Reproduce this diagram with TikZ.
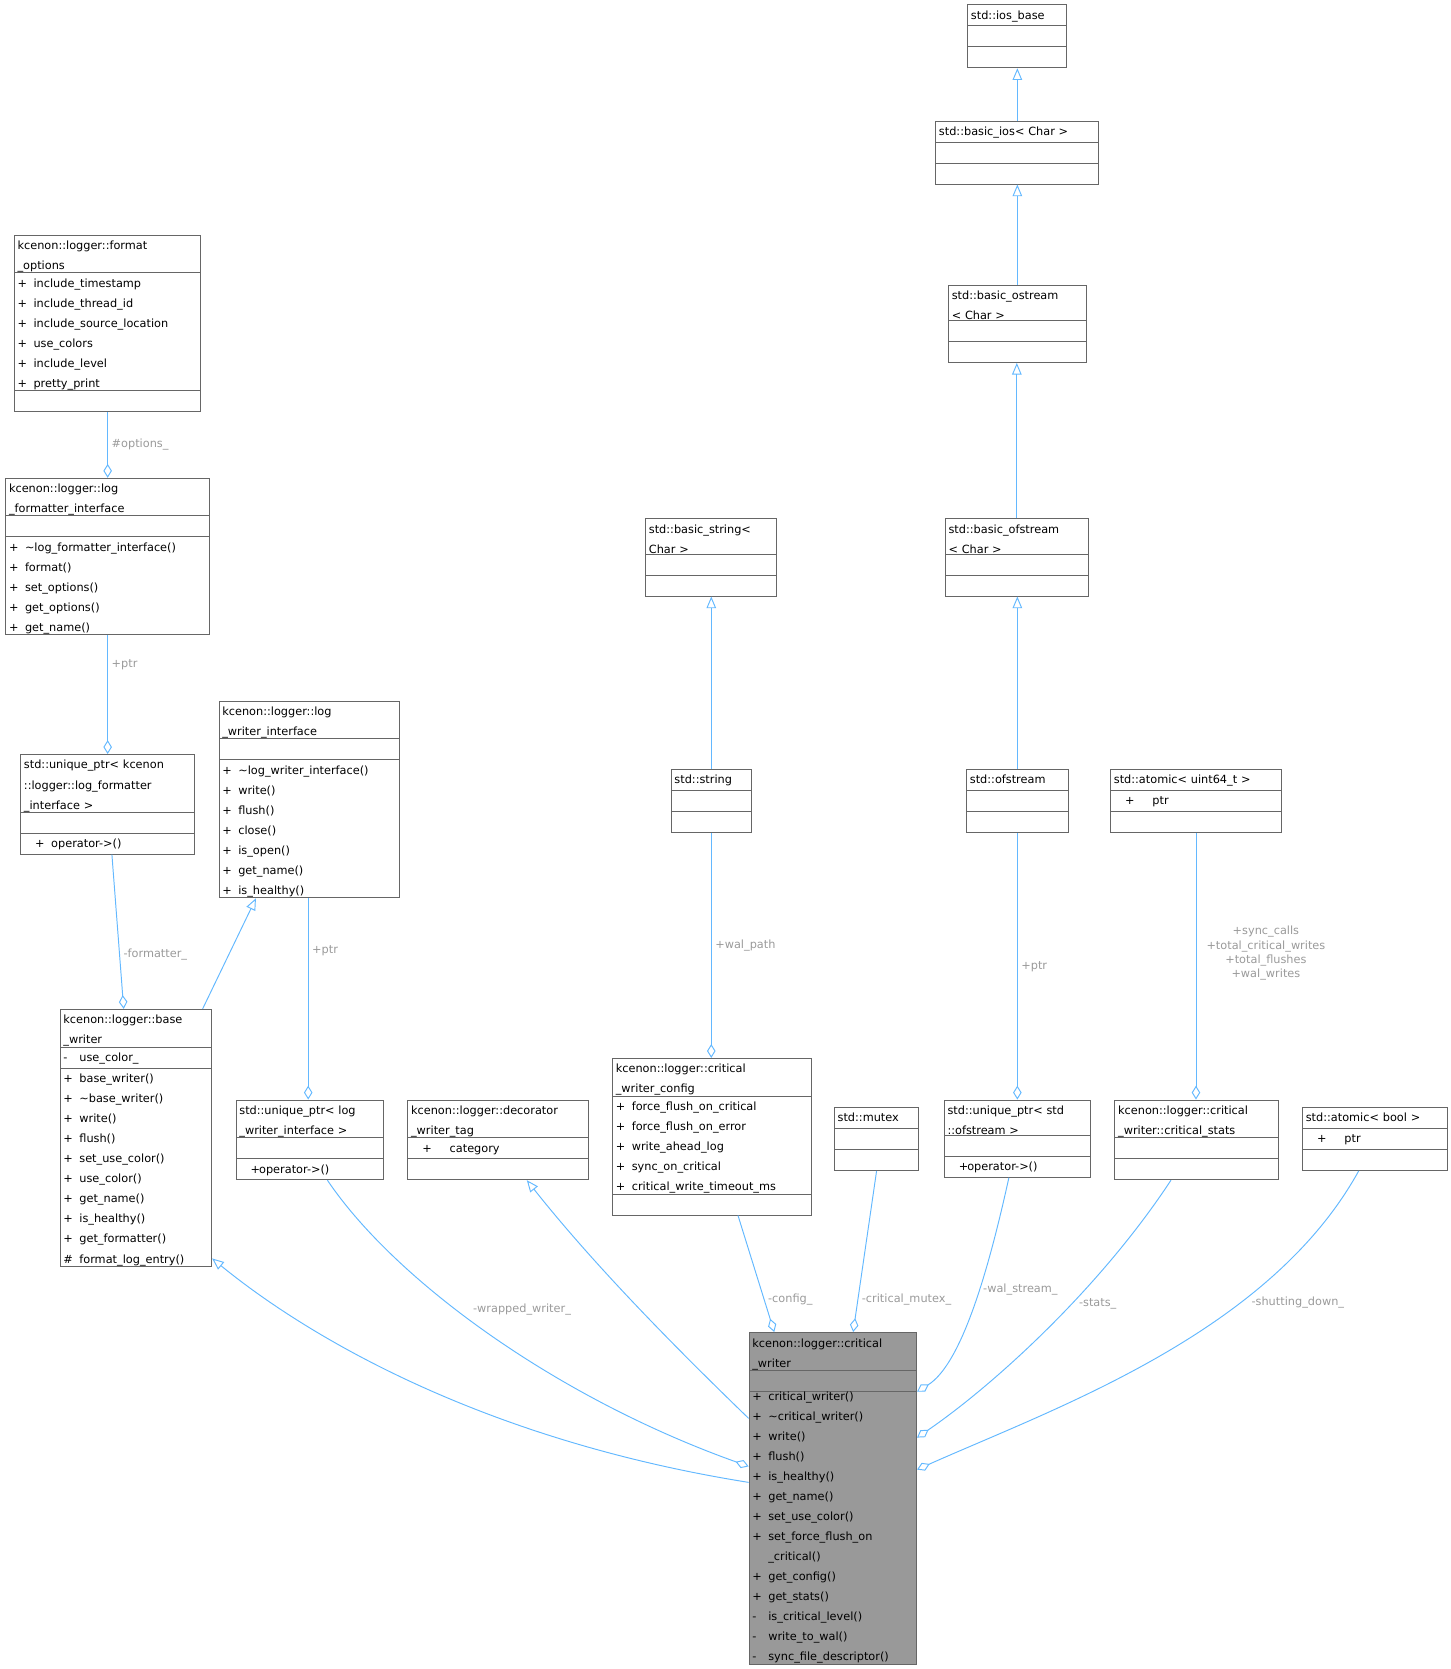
\documentclass[tikz,border=0pt]{standalone}
\usepackage{fontspec}
\setmainfont{DejaVu Sans}
\usetikzlibrary{arrows.meta, shapes.multipart, calc}
\definecolor{edgeblue}{HTML}{63B8FF}
\definecolor{lblgray}{HTML}{9A9A9A}
\definecolor{boxgray}{HTML}{666666}
\newcommand{\mem}[2]{\makebox[15pt][l]{#1}#2}
\newcommand{\cls}[7]{\node[cls, text width=#4pt-6pt] (#1) at (#2,#3)
  {\strut #5\nodepart{second}\strut #6\nodepart{third}\strut #7};}

\begin{document}
\begin{tikzpicture}[
		x=1pt, y=-1pt,
		every node/.style={font=\fontsize{10.6}{18.8}\selectfont},
		cls/.style={draw=boxgray, fill=white, rectangle split, rectangle split parts=3,
			rectangle split part align={center,left,left}, anchor=north west,
			inner xsep=3pt, inner ysep=0pt, line width=0.9pt},
		edge/.style={draw=edgeblue, line width=0.9pt},
		has/.style={edge, -{Diamond[open, length=13pt, width=8pt]}},
		isa/.style={edge, -{Triangle[open, length=11pt, width=9pt]}},
		lbl/.style={text=lblgray}
		]
		\useasboundingbox (0,0) rectangle (1360,1565);
		% classes
		\cls{fmtopt}{13}{220}{175}{kcenon::logger::format\\\_options}
		{\mem{+}{include\_timestamp}\\\mem{+}{include\_thread\_id}\\\mem{+}{include\_source\_location}\\\mem{+}{use\_colors}\\\mem{+}{include\_level}\\\mem{+}{pretty\_print}}{}
		\cls{fmtif}{5}{448}{191}{kcenon::logger::log\\\_formatter\_interface}{}
		{\mem{+}{\textasciitilde log\_formatter\_interface()}\\\mem{+}{format()}\\\mem{+}{set\_options()}\\\mem{+}{get\_options()}\\\mem{+}{get\_name()}}
		\cls{fmtptr}{19}{707}{163}{std::unique\_ptr< kcenon\\::logger::log\_formatter\\\_interface >}{}{\mem{\quad+}{\quad operator->()}}
		\cls{wrif}{205}{657}{169}{kcenon::logger::log\\\_writer\_interface}{}
		{\mem{+}{\textasciitilde log\_writer\_interface()}\\\mem{+}{write()}\\\mem{+}{flush()}\\\mem{+}{close()}\\\mem{+}{is\_open()}\\\mem{+}{get\_name()}\\\mem{+}{is\_healthy()}}
		\cls{basew}{56}{946}{142}{kcenon::logger::base\\\_writer}{\mem{-}{use\_color\_}}
		{\mem{+}{base\_writer()}\\\mem{+}{\textasciitilde base\_writer()}\\\mem{+}{write()}\\\mem{+}{flush()}\\\mem{+}{set\_use\_color()}\\\mem{+}{use\_color()}\\\mem{+}{get\_name()}\\\mem{+}{is\_healthy()}\\\mem{+}{get\_formatter()}\\\mem{\#}{format\_log\_entry()}}
		\cls{wrptr}{221}{1031}{138}{std::unique\_ptr< log\\\_writer\_interface >}{}{\mem{\quad+}{\ operator->()}}
		\cls{dectag}{382}{1031}{169}{kcenon::logger::decorator\\\_writer\_tag}{\mem{\quad+}{\qquad category}}{}
		\cls{config}{574}{992}{186}{kcenon::logger::critical\\\_writer\_config}
		{\mem{+}{force\_flush\_on\_critical}\\\mem{+}{force\_flush\_on\_error}\\\mem{+}{write\_ahead\_log}\\\mem{+}{sync\_on\_critical}\\\mem{+}{critical\_write\_timeout\_ms}}{}
		\cls{mutex}{782}{1038}{79}{std::mutex}{}{}
		\cls{ofptr}{885}{1031}{137}{std::unique\_ptr< std\\::ofstream >}{}{\mem{\quad+}{\ operator->()}}
		\cls{stats}{1045}{1031}{153}{kcenon::logger::critical\\\_writer::critical\_stats}{}{}
		\cls{abool}{1221}{1038}{136}{std::atomic< bool >}{\mem{\quad+}{\qquad ptr}}{}
		\cls{string}{629}{721}{75}{std::string}{}{}
		\cls{bstring}{605}{486}{123}{std::basic\_string<\\Char >}{}{}
		\cls{ofs}{906}{721}{95}{std::ofstream}{}{}
		\cls{bofs}{886}{486}{134}{std::basic\_ofstream\\< Char >}{}{}
		\cls{bos}{889}{267}{129}{std::basic\_ostream\\< Char >}{}{}
		\cls{bios}{877}{113}{153}{std::basic\_ios< Char >}{}{}
		\cls{iosb}{907}{4}{93}{std::ios\_base}{}{}
		\cls{au64}{1041}{721}{160}{std::atomic< uint64\_t >}{\mem{\quad+}{\qquad ptr}}{}
		\node[cls, fill=black!40, text width=151pt] (cw) at (702,1249)
		{\strut kcenon::logger::critical\\\_writer\nodepart{second}\strut\nodepart{third}
		\mem{+}{critical\_writer()}\\\mem{+}{\textasciitilde critical\_writer()}\\\mem{+}{write()}\\\mem{+}{flush()}\\\mem{+}{is\_healthy()}\\\mem{+}{get\_name()}\\\mem{+}{set\_use\_color()}\\\mem{+}{set\_force\_flush\_on}\\\mem{}{\_critical()}\\\mem{+}{get\_config()}\\\mem{+}{get\_stats()}\\\mem{-}{is\_critical\_level()}\\\mem{-}{write\_to\_wal()}\\\mem{-}{sync\_file\_descriptor()}};
		% left column
		\draw[has] (fmtopt.south) -- (fmtif.north) node[lbl, midway, right] {\#options\_};
		\draw[has] (fmtif.south) -- (fmtif.south |- fmtptr.north) node[lbl, pos=0.25, right] {+ptr};
		\draw[has] ($(fmtptr.south)+(4,0)$) -- ($(basew.north west)+(60,0)$) node[lbl, pos=0.65, right] {-formatter\_};
		\draw[isa] ($(basew.north west)+(134,0)$) -- ($(wrif.south west)+(35,0)$);
		\draw[has] ($(wrif.south west)+(84,0)$) -- ($(wrptr.north west)+(68,0)$) node[lbl, pos=0.26, right] {+ptr};
		% into critical_writer
		\draw[isa] ($(cw.north west)+(0,141)$) .. controls (420,1345) and (260,1230) .. ($(basew.north east)+(0,234)$);
		\draw[has] ($(wrptr.south west)+(86,0)$) .. controls (370,1200) and (520,1310) .. ($(cw.north west)+(0,126)$)
			node[lbl, pos=0.45, above right] {-wrapped\_writer\_};
		\draw[isa] ($(cw.north west)+(0,81)$) .. controls (640,1270) and (560,1190) .. ($(dectag.south west)+(112,0)$);
		\draw[has] ($(config.south west)+(118,0)$) -- ($(cw.north west)+(24,0)$) node[lbl, pos=0.72, right] {-config\_};
		\draw[has] (mutex.south) -- ($(cw.north west)+(98,0)$) node[lbl, pos=0.8, right] {-critical\_mutex\_};
		\draw[has] ($(ofptr.south west)+(61,0)$) .. controls (925,1200) and (900,1280) .. ($(cw.north east)+(0,56)$)
			node[lbl, pos=0.4, right] {-wal\_stream\_};
		\draw[has] ($(stats.south west)+(53,0)$) .. controls (1030,1210) and (930,1300) .. ($(cw.north east)+(0,99)$)
			node[lbl, pos=0.4, right=3pt] {-stats\_};
		\draw[has] ($(abool.south west)+(53,0)$) .. controls (1190,1250) and (990,1320) .. ($(cw.north east)+(0,129)$)
			node[lbl, pos=0.32, right=6pt] {-shutting\_down\_};
		% std streams and strings
		\draw[isa] (string.north) -- (string.north |- bstring.south);
		\draw[has] (string.south) -- (string.south |- config.north) node[lbl, midway, right] {+wal\_path};
		\draw[isa] (ofs.north) -- (ofs.north |- bofs.south);
		\draw[isa] (bofs.north) -- (bofs.north |- bos.south);
		\draw[isa] (bos.north) -- (bos.north |- bios.south);
		\draw[isa] (bios.north) -- (bios.north |- iosb.south);
		\draw[has] (ofs.south) -- (ofs.south |- ofptr.north) node[lbl, midway, right] {+ptr};
		\draw[has] (au64.south) -- (au64.south |- stats.north);
		\node[lbl, align=center, font=\fontsize{10.6}{13.5}\selectfont] (u64lbl) at (1187,894) {+sync\_calls\\+total\_critical\_writes\\+total\_flushes\\+wal\_writes};
\end{tikzpicture}
\end{document}
